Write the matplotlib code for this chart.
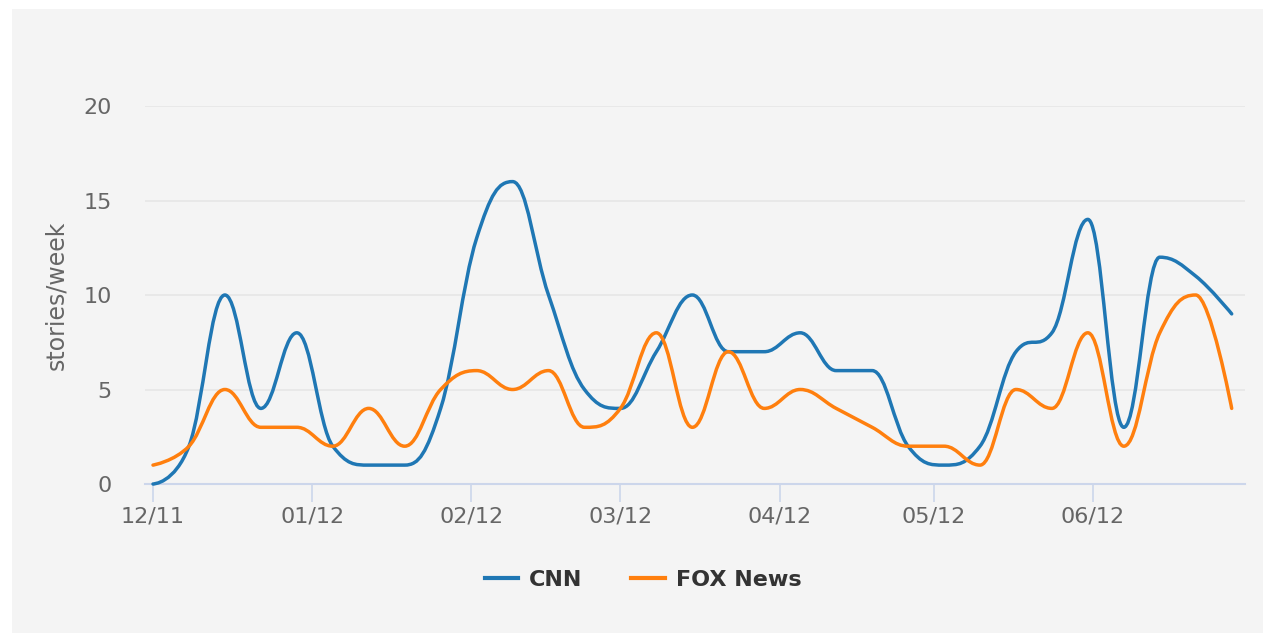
import numpy as np
import matplotlib
matplotlib.use("Agg")
import matplotlib.pyplot as plt
import matplotlib.dates as mdates
from matplotlib.path import Path
from matplotlib.patches import PathPatch, Rectangle
from matplotlib.lines import Line2D

# weekly story counts, first week starting 2011-12-01
start = np.datetime64('2011-12-01')
cnn = [0, 2, 10, 4, 8, 2, 1, 1, 4, 13, 16, 10, 5, 4, 7, 10, 7, 7, 8, 6,
       6, 2, 1, 2, 7, 8, 14, 3, 12, 11, 9]
fox = [1, 2, 5, 3, 3, 2, 4, 2, 5, 6, 5, 6, 3, 4, 8, 3, 7, 4, 5, 4,
       3, 2, 2, 1, 5, 4, 8, 2, 8, 10, 4]
series_names = ['CNN', 'FOX News']
series_colors = ['#1f77b4', '#ff7f0e']
tick_months = ['2011-12-01', '2012-01-01', '2012-02-01', '2012-03-01',
               '2012-04-01', '2012-05-01', '2012-06-01']
tick_labels = ['12/11', '01/12', '02/12', '03/12', '04/12', '05/12', '06/12']

dates = start + np.arange(len(cnn)) * np.timedelta64(7, 'D')
xs = mdates.date2num(dates.astype('datetime64[D]').astype(object))


def spline_path(x, y, smoothing=1.5):
    """Bezier path through points, highcharts-like smoothing"""
    n = len(x)
    denom = smoothing + 1
    lc = [(x[i], y[i]) for i in range(n)]
    rc = [(x[i], y[i]) for i in range(n)]
    for i in range(1, n - 1):
        px, py = x[i], y[i]
        lx = (smoothing * px + x[i - 1]) / denom
        ly = (smoothing * py + y[i - 1]) / denom
        rx = (smoothing * px + x[i + 1]) / denom
        ry = (smoothing * py + y[i + 1]) / denom
        if rx != lx:
            corr = (ry - ly) * (rx - px) / (rx - lx) + py - ry
            ly += corr
            ry += corr
        if ly > y[i - 1] and ly > py:
            ly = max(y[i - 1], py)
            ry = 2 * py - ly
        elif ly < y[i - 1] and ly < py:
            ly = min(y[i - 1], py)
            ry = 2 * py - ly
        if ry > y[i + 1] and ry > py:
            ry = max(y[i + 1], py)
            ly = 2 * py - ry
        elif ry < y[i + 1] and ry < py:
            ry = min(y[i + 1], py)
            ly = 2 * py - ry
        lc[i] = (lx, ly)
        rc[i] = (rx, ry)
    verts = [(x[0], y[0])]
    codes = [Path.MOVETO]
    for i in range(1, n):
        verts += [rc[i - 1], lc[i], (x[i], y[i])]
        codes += [Path.CURVE4] * 3
    return Path(verts, codes)


W, H = 1263, 633
fig = plt.figure(figsize=(W / 100, H / 100), dpi=100)
fig.patch.set_facecolor('white')
fig.patches.append(Rectangle((12 / W, 0), 1, 1 - 9 / H, transform=fig.transFigure,
                             facecolor='#f4f4f4', edgecolor='none', zorder=-5))

ax = fig.add_axes([145 / W, (H - 484) / H, 1100 / W, 378 / H])
ax.set_facecolor('none')

for vals, color in zip([cnn, fox], series_colors):
    p = spline_path(xs, np.array(vals, dtype=float))
    ax.add_patch(PathPatch(p, facecolor='none', edgecolor=color, lw=2.5,
                           capstyle='round', joinstyle='round', clip_on=False, zorder=3))

px_day = (1093 - 153) / 183.0
ax.set_xlim(xs[0] - 8 / px_day, xs[0] + 1092 / px_day)
ax.set_ylim(0, 20)

ax.set_yticks([0, 5, 10, 15, 20])
ax.yaxis.grid(True, color='#e6e6e6', lw=1.2)
ax.set_axisbelow(True)
ax.tick_params(axis='y', length=0, pad=24, labelsize=16, labelcolor='#666666')

tick_x = mdates.date2num(np.array(tick_months, dtype='datetime64[D]').astype(object))
ax.set_xticks(tick_x)
ax.set_xticklabels(tick_labels)
ax.tick_params(axis='x', length=13, width=1.2, color='#ccd6eb', pad=3,
               labelsize=16, labelcolor='#666666')

for s in ['top', 'right', 'left']:
    ax.spines[s].set_visible(False)
ax.spines['bottom'].set_color('#ccd6eb')
ax.spines['bottom'].set_linewidth(1.5)

ax.set_ylabel('stories/week', fontsize=17, color='#666666', labelpad=11)

handles = [Line2D([], [], color=c, lw=3) for c in series_colors]
leg = fig.legend(handles, series_names, loc='center', bbox_to_anchor=(643 / W, 1 - 580 / H),
                 ncol=2, frameon=False, handlelength=1.5, handletextpad=0.5,
                 columnspacing=2.2, prop={'weight': 'bold', 'size': 16})
for t in leg.get_texts():
    t.set_color('#333333')

plt.savefig('out.png', dpi=100, facecolor=fig.get_facecolor())
